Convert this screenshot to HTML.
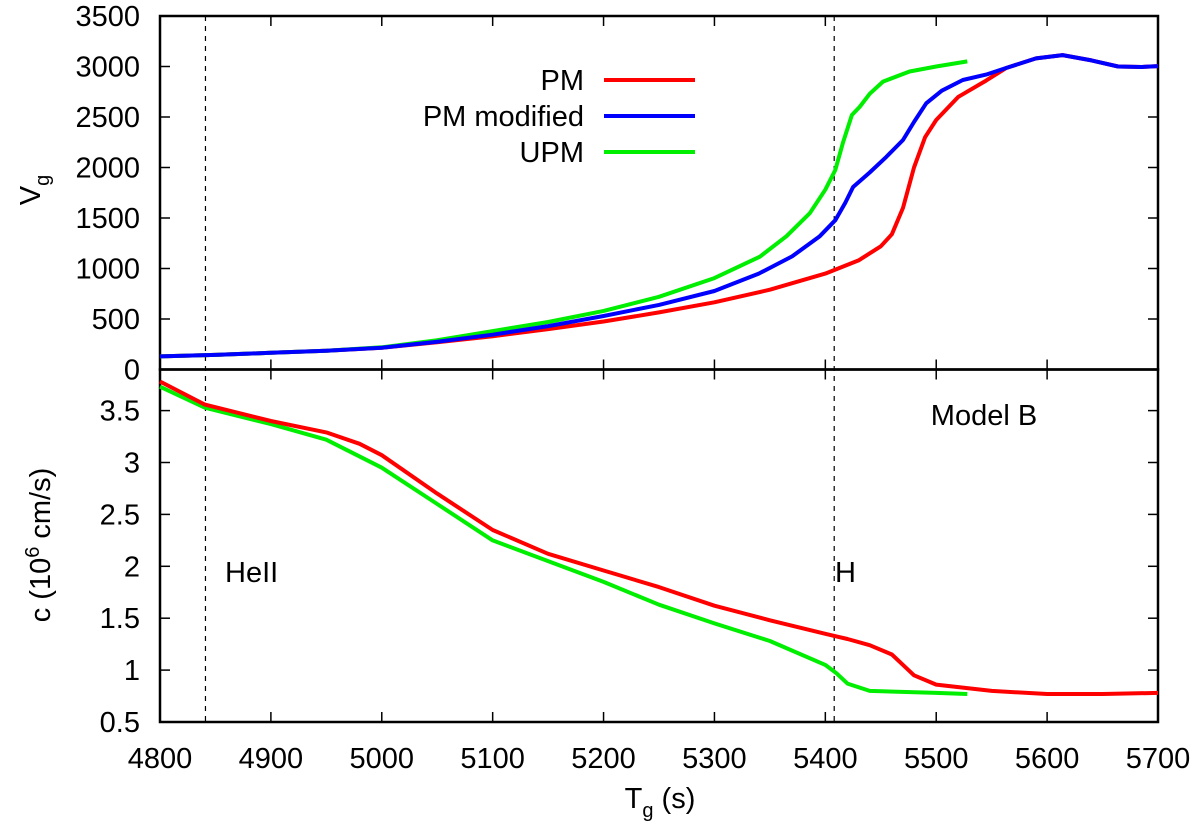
<!DOCTYPE html>
<html><head><meta charset="utf-8"><style>
body{margin:0;background:#fff}
svg text{font-family:"Liberation Sans",Arial,sans-serif;font-size:29px;fill:#000}
</style></head><body>
<svg width="1200" height="833" viewBox="0 0 1200 833">
<g id="g"></g>
</svg>
<script>
const xTicks=[4800,4900,5000,5100,5200,5300,5400,5500,5600,5700];
const vTicks=[0,500,1000,1500,2000,2500,3000,3500];
const cTicks=[0.5,1,1.5,2,2.5,3,3.5];
const cTickLabels=["0.5","1","1.5","2","2.5","3","3.5"];
const pmT=[4800,4850,4900,4950,5000,5050,5100,5150,5200,5250,5300,5350,5400,5430,5450,5460,5470,5480,5490,5500,5520,5545,5563,5590,5614,5640,5664,5685,5700];
const pmV=[130,145,165,185,215,270,330,400,475,565,665,790,950,1080,1220,1340,1600,2000,2300,2470,2700,2860,2985,3080,3113,3060,3000,2995,3004];
const pmmT=[4800,4850,4900,4950,5000,5050,5100,5150,5200,5250,5300,5340,5370,5395,5409,5418,5425,5440,5455,5470,5480,5491,5505,5524,5545,5563,5590,5614,5640,5664,5685,5700];
const pmmV=[130,145,165,185,215,275,345,430,530,640,777,950,1120,1320,1478,1650,1807,1950,2105,2272,2450,2636,2760,2866,2920,2985,3080,3113,3060,3000,2995,3004];
const upmT=[4800,4850,4900,4950,5000,5050,5100,5150,5200,5250,5300,5341,5365,5386,5400,5409,5416,5424,5431,5440,5452,5476,5500,5528];
const upmV=[130,145,165,185,220,290,380,470,580,720,905,1117,1320,1548,1780,1975,2250,2520,2600,2730,2850,2950,3000,3050];
const cPmT=[4800,4840,4900,4950,4980,5000,5050,5100,5150,5200,5250,5300,5350,5400,5420,5440,5460,5470,5480,5500,5550,5600,5650,5700];
const cPmV=[3.78,3.56,3.4,3.29,3.18,3.07,2.7,2.35,2.12,1.96,1.8,1.62,1.48,1.35,1.3,1.24,1.15,1.05,0.95,0.86,0.8,0.77,0.77,0.78];
const cUpmT=[4800,4840,4900,4950,5000,5050,5100,5150,5200,5250,5300,5350,5400,5410,5420,5440,5500,5528];
const cUpmV=[3.73,3.53,3.37,3.22,2.95,2.6,2.25,2.05,1.85,1.63,1.45,1.28,1.05,0.97,0.87,0.8,0.78,0.77];
const vlines=[4841,5408];

const X=t=>160+(t-4800)*(998/900);
const YV=v=>369.5-v*0.101;
const YC=c=>722-(c-0.5)*103.8;
const g=document.getElementById('g');
const NS='http://www.w3.org/2000/svg';
function mk(tag,at,parent){const e=document.createElementNS(NS,tag);for(const k in at)e.setAttribute(k,at[k]);(parent||g).appendChild(e);return e;}
function line(x1,y1,x2,y2,w,dash){return mk('line',{x1,y1,x2,y2,stroke:'#000','stroke-width':w||1.5,'stroke-dasharray':dash||'none'});}
function txt(s,x,y,anchor){const e=mk('text',{x,y,'text-anchor':anchor||'middle'});e.textContent=s;return e;}

let f1=mk('rect',{x:160,y:16,width:998,height:353.5,fill:'none',stroke:'#000','stroke-width':2.5});


let f2=mk('rect',{x:160,y:369.5,width:998,height:352.5,fill:'none',stroke:'#000','stroke-width':2.5});



xTicks.forEach(t=>{const x=X(t);
 [[16,26],[359.5,379.5],[722,712]].forEach(([a,b])=>{line(x,a,x,b,1.5);});
 const l=txt(String(t),x,768);
 
 
});
vTicks.forEach(v=>{const y=YV(v);line(160,y,170,y);line(1158,y,1148,y);
 const l=txt(String(v),140,y+10,'end');
 
 
});
cTicks.forEach((c,i)=>{const y=YC(c);line(160,y,170,y);line(1158,y,1148,y);
 const l=txt(cTickLabels[i],140,y+10,'end');
 
 
});
vlines.forEach(t=>{const l=line(X(t),16,X(t),722,1.2,'5,5');
 
 
});

function series(T,V,Y,color,name){
 const d=T.map((t,i)=>(i?'L':'M')+X(t).toFixed(1)+','+Y(V[i]).toFixed(1)).join('');
 const p=mk('path',{d,fill:'none',stroke:color,'stroke-width':4,'stroke-linejoin':'round','stroke-linecap':'butt'});
 
 
}
series(pmT,pmV,YV,'#ff0000','pm-vg-line');
series(upmT,upmV,YV,'#00ee00','upm-vg-line');
series(pmmT,pmmV,YV,'#0000ff','pm-modified-vg-line');
series(cUpmT,cUpmV,YC,'#00ee00','upm-c-line');
series(cPmT,cPmV,YC,'#ff0000','pm-c-line');

[['PM','#ff0000',90],['PM modified','#0000ff',126],['UPM','#00ee00',162]].forEach(([s,c,y])=>{
 const l=txt(s,584,y,'end');
 
 
 const m=mk('line',{x1:604,y1:y-10,x2:695,y2:y-10,stroke:c,'stroke-width':4});
 
 
});
let a=txt('Model B',984,425);
a=txt('HeII',225,582,'start');
a=txt('H',835,582,'start');

a=mk('text',{x:0,y:0,transform:'translate(40,190) rotate(-90)','text-anchor':'middle'});
a.innerHTML='V<tspan font-size="20" dy="9">g</tspan>';

a=mk('text',{x:0,y:0,transform:'translate(50,545) rotate(-90)','text-anchor':'middle'});
a.innerHTML='c (10<tspan font-size="20" dy="-11">6</tspan><tspan dy="11"> cm/s)</tspan>';

a=mk('text',{x:660,y:808,'text-anchor':'middle'});
a.innerHTML='T<tspan font-size="20" dy="9">g</tspan><tspan dy="-9"> (s)</tspan>';

</script>
</body></html>
